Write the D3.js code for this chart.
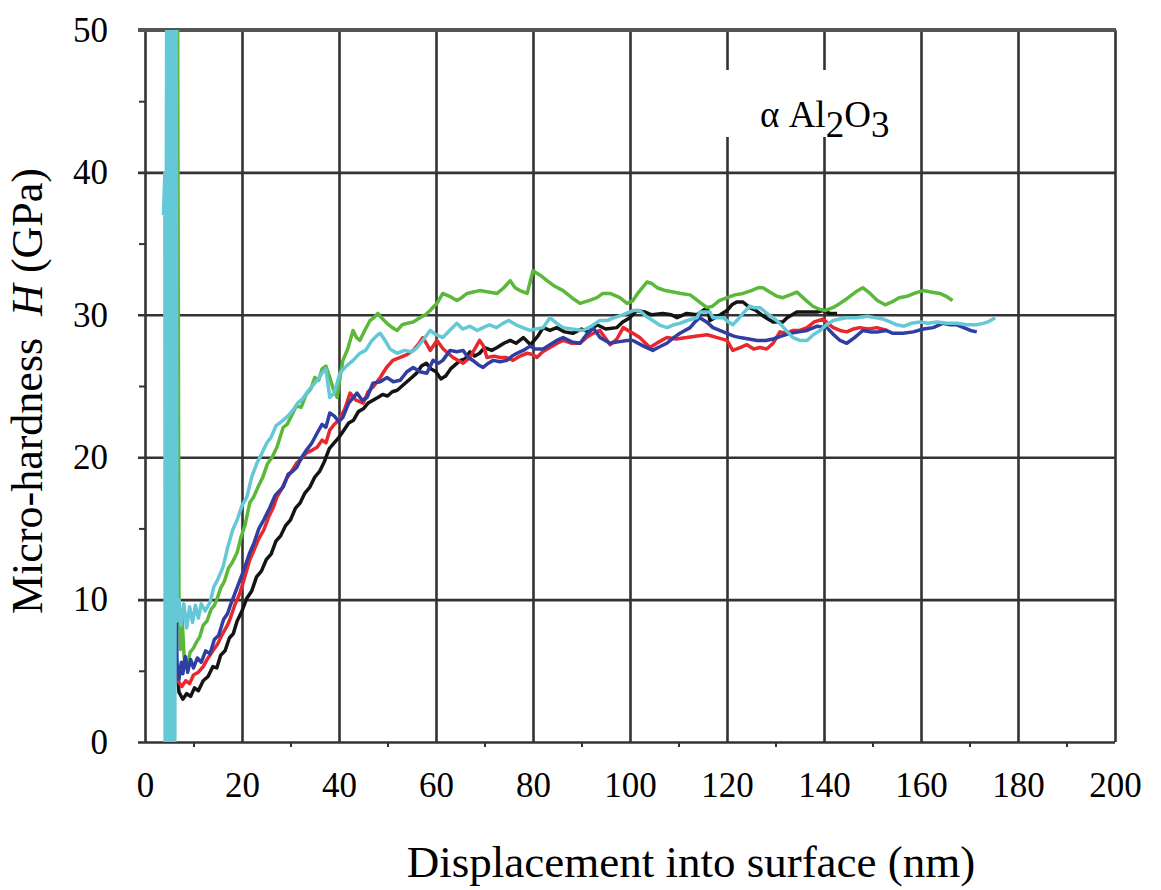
<!DOCTYPE html>
<html>
<head>
<meta charset="utf-8">
<script src="https://cdn.jsdelivr.net/npm/d3@7"></script>
<style>
  body { margin: 0; background: #fff; }
  svg text { font-family: "Liberation Serif", "Times New Roman", serif; fill: #000; }
</style>
</head>
<body>
<svg id="chart" width="1161" height="890"></svg>
<script>
// Axis ticks
const xTicks = [0, 20, 40, 60, 80, 100, 120, 140, 160, 180, 200];
const xMinor = [10, 30, 50, 70, 90, 110, 130, 150, 170, 190];
const yTicks = [0, 10, 20, 30, 40, 50];
const yMinor = [5, 15, 25, 35, 45];

// Nanoindentation curves: [displacement (nm), hardness (GPa)]
const curveBlack = [[5.5,56],[6.4,6],[7.0,3.5],[7.8,3.0],[8.6,3.4],[9.4,3.2],[10.2,3.8],[11.0,3.6],[12.0,4.3],[13.0,4.6],[14.0,5.3],[14.8,5.2],[15.6,6.1],[16.5,6.4],[17.4,7.3],[18.2,7.6],[19.0,8.5],[20.0,9.2],[21.0,10.1],[22.0,10.6],[23.0,11.6],[24.0,12.0],[25.0,12.8],[26.0,13.2],[27.0,14.1],[28.0,14.5],[29.0,15.2],[30.0,15.6],[31.0,16.4],[32.0,16.8],[33.0,17.5],[34.0,17.9],[35.0,18.6],[36.0,19.0],[37.0,19.7],[38.0,20.6],[39.0,21.0],[40.0,21.4],[41.0,21.9],[42.0,22.4],[43.0,22.6],[44.0,23.2],[45.0,23.4],[46.0,23.8],[47.0,24.0],[48.0,24.2],[49.0,24.4],[50.0,24.3],[51.0,24.6],[52.0,24.7],[53.0,25.0],[54.0,25.3],[55.0,25.6],[56.0,25.9],[57.0,26.4],[58.0,26.6],[59.0,26.2],[60.0,26.0],[61.0,25.5],[62.0,25.7],[63.0,26.2],[64.0,26.5],[65.0,26.8],[66.0,26.9],[67.0,27.4],[68.0,27.1],[69.0,27.3],[70.0,27.7],[71.5,27.5],[72.6,27.7],[74.0,28.0],[75.3,28.2],[76.5,28.0],[78.0,28.4],[79.5,27.9],[81.0,28.5],[82.1,29.1],[83.5,28.9],[84.9,29.1],[86.5,28.8],[88.2,28.7],[90.0,29.0],[91.5,28.8],[93.2,29.3],[95.0,29.0],[97.3,29.1],[98.5,29.5],[100.0,29.8],[101.4,30.3],[103.0,30.2],[104.5,30.0],[106.8,30.1],[108.5,30.0],[109.7,29.8],[111.7,30.1],[113.8,30.0],[115.9,30.5],[116.5,29.6],[118.6,30.0],[120.0,30.3],[121.0,30.7],[122.0,30.9],[123.3,30.9],[124.7,30.5],[126.0,30.3],[127.5,29.9],[129.5,29.5],[131.5,29.5],[132.4,29.8],[134.4,30.2],[136.5,30.2],[138.6,30.2],[139.8,30.3],[141.2,30.1],[142.7,30.1]];

const curveRed = [[5.6,56],[6.4,5],[7.0,4.2],[7.6,3.9],[8.4,4.3],[9.2,4.1],[10.0,4.7],[11.0,4.9],[12.0,5.3],[13.0,5.9],[14.0,6.4],[15.0,6.9],[16.0,7.6],[17.0,8.2],[17.5,8.6],[18.5,9.6],[19.5,10.4],[20.5,11.5],[21.6,12.8],[22.5,13.5],[23.5,14.3],[24.5,14.9],[25.5,15.8],[26.5,16.5],[27.2,17.2],[28.2,17.8],[29.2,18.5],[30.2,19.0],[31.3,19.6],[32.3,19.9],[33.3,20.3],[34.5,20.5],[35.5,20.7],[36.5,21.2],[37.3,21.0],[38.1,21.9],[39.0,22.3],[40.0,22.6],[41.2,23.4],[42.3,24.5],[43.5,24.0],[45.0,23.8],[46.0,24.6],[47.2,25.0],[48.5,25.6],[49.8,26.3],[51.1,26.8],[52.5,27.0],[54.0,27.2],[55.3,27.5],[56.3,27.9],[57.3,28.4],[58.0,28.0],[58.8,27.5],[60.2,28.2],[61.5,27.6],[63.5,27.0],[65.6,26.6],[67.0,27.0],[68.0,27.6],[69.0,28.2],[69.8,27.8],[70.5,27.0],[72.0,27.1],[73.2,27.0],[74.5,27.0],[75.9,26.8],[77.3,27.1],[78.8,27.3],[80.0,27.2],[80.8,27.0],[82.0,27.4],[83.5,27.7],[85.0,28.0],[86.2,28.2],[88.0,28.0],[89.7,28.0],[91.0,28.4],[92.4,28.7],[93.8,28.9],[95.9,27.9],[97.3,28.3],[98.6,29.1],[100.6,28.7],[102.0,28.4],[104.1,27.7],[106.0,28.1],[107.6,28.4],[109.5,28.3],[111.7,28.4],[113.5,28.5],[115.9,28.6],[118.0,28.4],[120.0,28.2],[121.2,27.5],[122.7,27.7],[124.1,27.9],[125.5,27.6],[126.8,27.7],[128.2,27.6],[129.5,28.0],[130.9,28.8],[132.2,28.7],[133.6,28.9],[135.0,28.9],[136.5,29.1],[138.0,29.5],[139.8,29.7],[140.8,29.4],[141.9,29.1],[143.3,28.9],[144.7,28.8],[146.0,29.0],[147.4,29.1],[149.2,29.0],[150.9,29.1],[153.0,28.9]];

const curveBlue = [[4.7,0],[4.8,56],[6.6,5.5],[7.0,4.4],[7.5,5.6],[7.8,4.8],[8.3,6.0],[8.8,4.9],[9.4,5.8],[10.0,5.2],[10.8,5.9],[11.6,5.6],[12.5,6.4],[13.4,6.2],[14.3,7.2],[15.2,7.5],[16.2,8.6],[17.0,9.0],[17.5,9.5],[18.5,10.4],[19.5,11.3],[20.5,12.2],[21.6,13.3],[22.5,14.0],[23.5,15.0],[24.5,15.6],[25.8,16.5],[26.8,17.3],[27.6,17.6],[28.5,17.9],[29.5,18.8],[30.4,19.0],[31.3,19.3],[32.3,20.0],[33.3,20.5],[34.4,21.0],[35.5,21.7],[36.5,22.3],[37.3,22.1],[38.1,23.1],[39.0,22.9],[40.0,22.5],[40.8,22.8],[42.0,23.8],[43.7,24.5],[44.8,24.0],[45.8,24.2],[47.0,25.2],[48.5,25.3],[49.9,25.6],[51.2,25.3],[52.6,25.4],[54.0,26.0],[55.3,26.3],[56.7,26.0],[58.1,25.9],[59.4,26.8],[60.5,26.6],[61.4,26.8],[62.9,27.5],[64.3,27.4],[65.6,27.5],[66.6,27.0],[67.6,26.8],[68.7,26.5],[69.7,26.3],[70.8,26.6],[71.8,26.8],[73.2,26.7],[74.6,26.8],[75.7,27.1],[76.7,27.3],[78.0,27.5],[79.4,27.8],[80.5,27.6],[82.1,27.6],[83.5,27.9],[84.9,28.2],[86.2,28.4],[88.0,28.1],[89.7,28.0],[91.0,28.6],[92.4,29.1],[93.8,28.4],[95.9,28.0],[97.5,28.1],[99.4,28.2],[100.6,28.2],[102.8,27.8],[104.7,27.5],[105.8,27.7],[107.6,28.0],[109.0,28.4],[110.3,28.7],[112.4,29.1],[113.4,29.5],[114.4,29.8],[115.8,29.5],[117.1,29.1],[118.5,28.9],[120.0,28.7],[121.4,28.5],[122.7,28.4],[124.5,28.3],[126.2,28.2],[128.0,28.2],[129.5,28.3],[131.2,28.5],[133.0,28.7],[134.8,28.8],[136.5,28.9],[138.6,29.2],[140.6,29.1],[142.0,28.6],[143.3,28.2],[144.7,28.0],[146.3,28.4],[148.0,28.9],[149.5,28.8],[151.2,28.8],[152.8,28.9],[154.2,28.7],[156.3,28.7],[158.4,28.8],[160.5,29.0],[162.5,29.1],[164.5,29.4],[166.0,29.3],[167.4,29.3],[168.8,29.1],[170.2,28.9],[171.5,28.8]];

const curveGreen = [[6.7,56],[7.0,10.5],[7.3,6.5],[7.6,9.0],[8.1,5.8],[8.7,5.4],[9.3,6.3],[10.0,6.6],[10.6,7.0],[11.3,7.4],[12.0,8.2],[12.8,8.5],[13.6,9.3],[14.3,9.6],[14.8,10.0],[15.6,10.8],[16.4,11.3],[17.2,12.2],[18.0,12.6],[19.0,13.3],[19.8,14.4],[20.6,15.2],[21.6,16.8],[22.4,17.2],[23.3,17.9],[24.3,18.6],[25.2,19.5],[26.2,20.0],[27.2,20.7],[28.5,22.1],[29.3,22.3],[30.2,22.9],[31.2,23.6],[32.2,23.5],[33.2,24.4],[34.2,24.8],[35.0,25.6],[35.8,25.4],[36.5,26.2],[37.3,26.4],[38.1,25.6],[38.8,24.8],[39.6,24.2],[40.2,25.6],[40.8,26.8],[41.8,27.6],[42.9,28.9],[43.6,28.4],[44.3,28.2],[45.3,28.9],[46.4,29.6],[47.2,29.8],[48.0,30.1],[49.0,29.7],[49.9,29.4],[51.0,29.1],[52.0,28.9],[53.0,29.3],[54.0,29.4],[55.3,29.5],[56.7,29.8],[57.8,30.0],[58.8,30.3],[59.6,30.6],[60.2,30.8],[61.4,31.5],[62.8,31.3],[64.3,31.0],[65.3,31.2],[66.4,31.5],[67.7,31.6],[69.0,31.7],[70.8,31.6],[72.6,31.5],[74.0,31.9],[75.3,32.4],[76.3,31.9],[77.3,31.7],[78.8,31.5],[79.4,32.3],[80.0,33.1],[81.4,32.8],[82.9,32.4],[84.5,32.0],[86.2,31.7],[88.0,31.2],[89.7,30.8],[91.5,31.0],[93.2,31.2],[94.4,31.5],[95.9,31.5],[97.9,31.2],[99.4,30.8],[100.6,31.0],[101.8,31.6],[103.5,32.3],[104.5,32.2],[105.6,31.9],[107.3,31.7],[108.9,31.6],[110.5,31.5],[112.4,31.4],[114.3,30.9],[115.9,30.5],[117.0,30.6],[118.4,31.0],[120.0,31.2],[121.6,31.4],[123.3,31.5],[125.0,31.7],[126.5,31.9],[127.4,31.9],[128.8,31.6],[130.3,31.3],[131.5,31.2],[133.0,31.4],[134.4,31.6],[136.0,31.1],[137.7,30.6],[139.0,30.4],[140.2,30.3],[141.8,30.5],[143.3,30.8],[145.0,31.2],[146.5,31.6],[148.0,31.9],[149.5,31.5],[151.0,31.0],[152.6,30.7],[154.0,30.9],[155.5,31.2],[157.1,31.3],[158.6,31.5],[160.4,31.7],[162.0,31.6],[163.9,31.5],[165.2,31.3],[166.5,31.0]];

const curveCyan = [[3.8,37],[4.1,40],[4.15,0],[4.5,56],[4.85,0],[5.2,56],[5.5,0],[5.85,56],[6.15,0],[6.4,56],[6.6,8.5],[7.0,10.0],[7.4,8.2],[8.0,9.7],[8.6,8.0],[9.2,9.5],[9.8,8.4],[10.4,9.6],[11.0,8.7],[11.6,9.7],[12.4,9.2],[13.4,9.8],[14.2,10.9],[15.0,11.4],[16.1,12.3],[17.0,13.6],[18.1,14.9],[19.0,15.6],[20.0,16.6],[21.0,17.2],[22.0,18.6],[23.1,19.6],[24.0,20.2],[25.1,21.0],[26.0,21.4],[27.0,22.2],[28.5,22.6],[29.5,22.9],[30.5,23.3],[31.5,23.8],[32.5,24.1],[33.5,24.6],[34.5,25.0],[35.5,25.4],[36.5,25.9],[37.3,26.2],[38.1,24.2],[39.0,24.5],[40.2,25.9],[41.5,26.4],[42.9,26.8],[44.3,27.3],[45.5,27.5],[46.8,28.2],[48.0,28.6],[48.5,28.7],[49.5,28.2],[50.5,27.6],[52.0,27.3],[53.5,27.5],[55.0,27.4],[56.1,27.7],[57.5,28.3],[58.8,28.9],[60.0,28.6],[61.4,28.4],[62.8,28.9],[64.3,29.4],[65.5,29.0],[67.0,29.2],[68.5,28.9],[69.7,29.1],[71.0,29.3],[72.5,29.1],[73.8,29.4],[75.0,29.6],[76.5,29.3],[77.9,29.1],[79.4,28.9],[80.5,29.0],[82.1,29.1],[83.5,29.8],[84.9,29.4],[86.2,29.1],[88.0,29.0],[90.3,28.9],[92.0,29.2],[93.8,29.6],[95.3,29.6],[96.8,29.8],[98.5,30.0],[100.0,30.2],[100.6,30.3],[102.0,30.3],[103.3,29.9],[104.7,29.6],[106.0,29.3],[107.6,29.1],[109.0,29.3],[110.3,29.4],[111.8,29.6],[113.8,29.8],[114.4,30.2],[116.5,30.2],[117.1,29.8],[119.2,29.8],[120.3,29.5],[121.2,29.3],[122.3,29.7],[123.3,30.1],[124.7,30.6],[125.6,30.5],[126.8,30.5],[128.2,30.1],[129.5,29.8],[130.9,29.4],[132.2,28.9],[133.6,28.4],[135.0,28.2],[136.5,28.2],[137.8,28.6],[139.2,28.9],[140.5,29.3],[141.9,29.6],[143.3,29.7],[144.7,29.8],[146.8,29.8],[148.9,29.9],[150.5,29.8],[152.2,29.7],[153.6,29.5],[155.0,29.3],[156.5,29.2],[158.0,29.4],[159.8,29.5],[161.5,29.4],[163.3,29.5],[165.4,29.4],[167.4,29.4],[169.5,29.3],[171.5,29.3],[172.8,29.4],[173.8,29.5],[175.3,29.8]];

const seriesList = [
  { name: "black", color: "#141414", values: curveBlack },
  { name: "red",   color: "#e8282c", values: curveRed },
  { name: "green", color: "#5cb83a", values: curveGreen },
  { name: "blue",  color: "#2f3ea2", values: curveBlue },
  { name: "cyan",  color: "#64c8d6", values: curveCyan }
];

const svg = d3.select("#chart");
const plotLeft = 145, plotRight = 1115, plotTop = 30, plotBottom = 742;

const x = d3.scaleLinear().domain([0, 200]).range([plotLeft, plotRight]);
const y = d3.scaleLinear().domain([0, 50]).range([plotBottom, plotTop]);

// Grid lines (vertical) via axis with full-height ticks
svg.append("g")
  .attr("transform", `translate(0,${plotBottom})`)
  .call(d3.axisBottom(x).tickValues(xTicks).tickSize(-(plotBottom - plotTop)).tickFormat(""))
  .call(g => g.select(".domain").remove())
  .call(g => g.selectAll("line").attr("stroke", "#333").attr("stroke-width", 2.6));

// Grid lines (horizontal), poking out a little on the left
svg.append("g")
  .attr("transform", `translate(${plotRight},0)`)
  .call(d3.axisLeft(y).tickValues(yTicks).tickSize(plotRight - plotLeft + 7).tickFormat(""))
  .call(g => g.select(".domain").remove())
  .call(g => g.selectAll("line").attr("stroke", "#333").attr("stroke-width", 2.6));

// Heavier top frame
svg.append("line")
  .attr("x1", x(0) - 7).attr("x2", x(200) + 1)
  .attr("y1", y(50)).attr("y2", y(50))
  .attr("stroke", "#555").attr("stroke-width", 4);

// Minor ticks
svg.append("g")
  .attr("transform", `translate(0,${plotBottom})`)
  .call(d3.axisBottom(x).tickValues(xMinor).tickSize(5).tickFormat(""))
  .call(g => g.select(".domain").remove())
  .call(g => g.selectAll("line").attr("stroke", "#333").attr("stroke-width", 2));
svg.append("g")
  .attr("transform", `translate(${plotLeft},0)`)
  .call(d3.axisLeft(y).tickValues(yMinor).tickSize(6).tickFormat(""))
  .call(g => g.select(".domain").remove())
  .call(g => g.selectAll("line").attr("stroke", "#333").attr("stroke-width", 2));

// Tick labels
svg.append("g")
  .attr("transform", `translate(0,${plotBottom})`)
  .call(d3.axisBottom(x).tickValues(xTicks).tickSize(0).tickPadding(30).tickFormat(d3.format("d")))
  .call(g => g.select(".domain").remove())
  .call(g => g.selectAll("text").attr("font-size", 35).attr("font-family", "Liberation Serif").attr("fill", "#000"));
svg.append("g")
  .attr("transform", `translate(${plotLeft},0)`)
  .call(d3.axisLeft(y).tickValues(yTicks).tickSize(0).tickPadding(37).tickFormat(d3.format("d")))
  .call(g => g.select(".domain").remove())
  .call(g => g.selectAll("text").attr("font-size", 35).attr("font-family", "Liberation Serif").attr("fill", "#000"));

// Curves
svg.append("clipPath").attr("id", "plotClip")
  .append("rect").attr("x", plotLeft).attr("y", plotTop)
  .attr("width", plotRight - plotLeft).attr("height", plotBottom - plotTop);

const line = d3.line().x(d => x(d[0])).y(d => y(d[1]));
svg.append("g").attr("clip-path", "url(#plotClip)")
  .selectAll("path").data(seriesList).join("path")
  .attr("d", d => line(d.values))
  .attr("fill", "none")
  .attr("stroke", d => d.color)
  .attr("stroke-width", 3.5)
  .attr("stroke-linejoin", "round");

// Material label
svg.append("rect").attr("x", 725).attr("y", 70).attr("width", 195).attr("height", 67).attr("fill", "#fff");
const lab = svg.append("text").attr("x", 760).attr("y", 127).attr("font-size", 37);
lab.append("tspan").text("α Al");
lab.append("tspan").attr("dy", 10).text("2");
lab.append("tspan").attr("dy", -10).text("O");
lab.append("tspan").attr("dy", 10).text("3");

// Axis titles
svg.append("text")
  .attr("x", 691).attr("y", 877)
  .attr("text-anchor", "middle").attr("font-size", 45)
  .text("Displacement into surface (nm)");

const yt = svg.append("text")
  .attr("transform", "translate(42,391) rotate(-90)")
  .attr("text-anchor", "middle").attr("font-size", 44)
  .attr("xml:space", "preserve");
yt.append("tspan").text("Micro-hardness  ");
yt.append("tspan").attr("font-style", "italic").text("H");
yt.append("tspan").text(" (GPa)");
</script>
</body>
</html>
